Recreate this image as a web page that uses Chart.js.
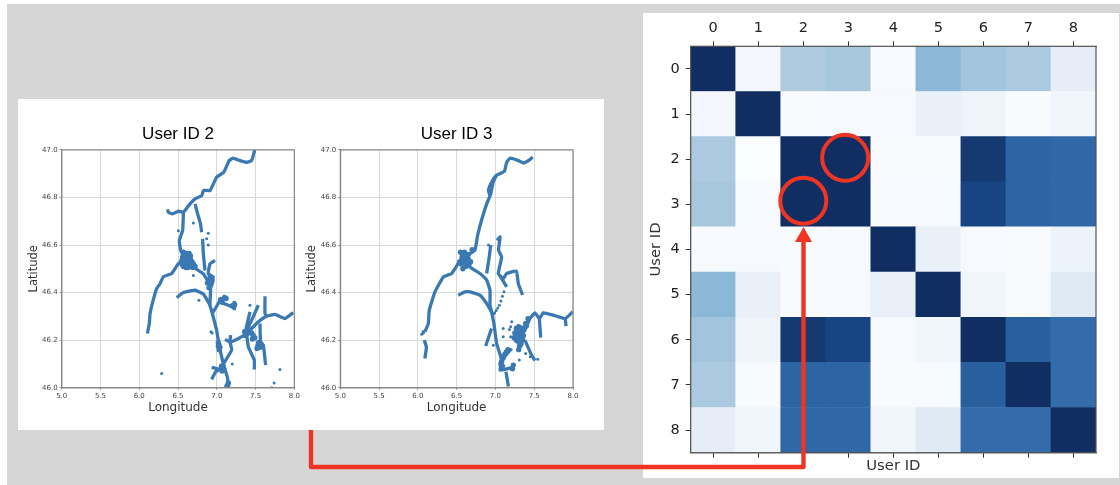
<!DOCTYPE html>
<html>
<head>
<meta charset="utf-8">
<script src="https://cdn.jsdelivr.net/npm/chart.js"></script>
<style>
  html, body { margin: 0; padding: 0; background: #fff; }
  #page { position: relative; width: 1120px; height: 485px; overflow: hidden; background: #fff; }
  #grey { position: absolute; left: 7px; top: 4px; width: 1113px; height: 481px; background: #d6d6d6; }
  .panel { position: absolute; background: #fff; }
  .box { position: absolute; }
  .box canvas { filter: blur(0.5px); }
  svg { position: absolute; left: 0; top: 0; }
</style>
</head>
<body>
<div id="page">
  <div id="grey"></div>
  <div class="panel" style="left:18px;top:99px;width:586px;height:331px"></div>
  <div class="panel" style="left:643px;top:13px;width:476px;height:465px"></div>
  <div class="box" style="left:18px;top:99px;width:287px;height:331px"><canvas id="map2"></canvas></div>
  <div class="box" style="left:305px;top:99px;width:278px;height:331px"><canvas id="map3"></canvas></div>
  <div class="box" style="left:643px;top:13px;width:476px;height:465px"><canvas id="matrix"></canvas></div>
  <svg width="1120" height="485">
    <polyline points="311,430 311,467 803.5,467 803.5,238" fill="none" stroke="#ee3524" stroke-width="4.4" stroke-linejoin="round"/>
    <polygon points="803.5,227 795,242 812,242" fill="#ee3524"/>
  </svg>
</div>
<script>
// map axes
const lonTicks = [5.0, 5.5, 6.0, 6.5, 7.0, 7.5, 8.0];
const latTicks = [46.0, 46.2, 46.4, 46.6, 46.8, 47.0];

// user 2 tracks, [lon, lat]
const u2North = [[7.49,47.0],[7.45,46.955],[7.385,46.948],[7.30,46.955],[7.21,46.965],[7.16,46.955],[7.09,46.906],[6.998,46.885],[6.913,46.829],[6.83,46.83],[6.806,46.808],[6.72,46.794],[6.655,46.773],[6.57,46.738],[6.505,46.742],[6.43,46.731],[6.375,46.738],[6.365,46.75]];
const u2Vertical = [[6.57,46.738],[6.56,46.661],[6.517,46.619],[6.535,46.577],[6.59,46.542]];
const u2West = [[6.105,46.228],[6.13,46.27],[6.14,46.312],[6.18,46.368],[6.225,46.417],[6.268,46.437],[6.31,46.466],[6.418,46.48],[6.46,46.5],[6.505,46.522],[6.59,46.542]];
const u2Main = [[6.59,46.542],[6.698,46.507],[6.827,46.479],[6.913,46.43],[6.92,46.41],[6.913,46.347],[6.943,46.312],[6.998,46.242],[7.03,46.179],[7.085,46.1],[7.14,46.04],[7.14,46.0]];
const u2Branch = [[6.483,46.379],[6.57,46.40],[6.676,46.408],[6.72,46.41],[6.83,46.393],[6.913,46.347]];
const u2Spur1 = [[6.72,46.773],[6.741,46.745],[6.79,46.689],[6.805,46.654]];
const u2Spur2 = [[6.818,46.626],[6.827,46.563],[6.848,46.493]];
const u2Loop = [[6.977,46.535],[6.913,46.521],[6.89,46.479],[6.956,46.465],[6.913,46.43]];
const u2Arm1 = [[6.943,46.312],[7.02,46.354],[7.04,46.368],[7.106,46.382]];
const u2Arm2 = [[7.04,46.36],[7.149,46.347],[7.226,46.337]];
const u2Arm3 = [[7.226,46.365],[7.226,46.326]];
const u2East = [[7.987,46.316],[7.88,46.291],[7.751,46.308],[7.644,46.301],[7.536,46.277],[7.45,46.249],[7.385,46.228],[7.256,46.203],[7.17,46.193],[7.106,46.203]];
const u2Arm4 = [[7.622,46.385],[7.622,46.312],[7.644,46.301]];
const u2Arm5 = [[7.428,46.319],[7.364,46.228]];
const u2Arm6 = [[7.536,46.347],[7.47,46.298],[7.428,46.27],[7.385,46.228]];
const u2South1 = [[7.385,46.228],[7.407,46.172],[7.484,46.116],[7.484,46.077]];
const u2South2 = [[7.557,46.27],[7.566,46.186],[7.6,46.18],[7.63,46.095]];
const u2South3 = [[7.179,46.221],[7.17,46.193],[7.192,46.158],[7.085,46.1]];
const u2South4 = [[6.934,46.086],[7.04,46.077],[7.085,46.1]];
const u2South5 = [[6.934,46.035],[6.986,46.067],[7.04,46.077]];
const u2Blob = [[7.02,46.19],[7.03,46.18],[7.04,46.17],[7.03,46.16],[7.02,46.175],[7.08,46.09],[7.06,46.09],[7.09,46.08],[7.07,46.07],[7.14,46.01],[7.15,46.02],[7.13,46.005],[6.9,46.445],[6.88,46.44],[6.91,46.46],[6.93,46.44],[6.94,46.45],[6.9,46.42],[6.92,46.43],[7.05,46.37],[7.07,46.36],[7.1,46.38],[7.12,46.375],[7.2,46.345],[7.22,46.34],[7.23,46.35]];
const u2Knot1 = [[6.56,46.55],[6.58,46.55],[6.6,46.556],[6.62,46.55],[6.64,46.545],[6.66,46.54],[6.68,46.53],[6.7,46.52],[6.72,46.51],[6.55,46.535],[6.57,46.53],[6.59,46.52],[6.61,46.53],[6.63,46.52],[6.65,46.525],[6.67,46.51],[6.69,46.505],[6.57,46.51],[6.6,46.505],[6.63,46.505],[6.55,46.52],[6.59,46.54],[6.62,46.565],[6.64,46.56],[6.58,46.565],[6.66,46.555],[6.57,46.57]];
const u2Knot2 = [[7.53,46.175],[7.55,46.18],[7.52,46.165],[7.56,46.17],[7.54,46.19],[7.57,46.185],[7.45,46.23],[7.47,46.22],[7.49,46.21],[7.46,46.205],[7.39,46.24],[7.37,46.22],[7.41,46.23],[7.36,46.235]];
const u2Dots = [[6.29,46.06],[7.815,46.077],[6.89,46.65],[6.89,46.6],[6.87,46.626],[6.698,46.693],[7.74,46.02],[7.708,46.0],[7.2,46.1],[6.698,46.472],[6.505,46.66],[6.655,46.57],[6.77,46.368],[6.925,46.235],[6.94,46.23],[7.428,46.347]];

// user 3 tracks, [lon, lat]
const u3North = [[7.48,46.97],[7.425,46.955],[7.36,46.945],[7.295,46.955],[7.19,46.965],[7.145,46.948],[7.115,46.91],[7.01,46.892],[6.95,46.864],[6.91,46.83],[6.93,46.808]];
const u3Strand = [[7.01,46.892],[6.97,46.864],[6.94,46.815],[6.887,46.773],[6.82,46.703],[6.77,46.64],[6.736,46.578],[6.67,46.564],[6.63,46.536]];
const u3West = [[6.09,46.235],[6.135,46.27],[6.147,46.326],[6.22,46.403],[6.33,46.466],[6.435,46.48],[6.565,46.543],[6.63,46.536]];
const u3Main = [[6.565,46.564],[6.67,46.508],[6.80,46.48],[6.887,46.452],[6.93,46.41],[6.93,46.347],[6.95,46.319],[6.98,46.27],[7.016,46.186],[7.08,46.116],[7.059,46.074],[7.231,46.086]];
const u3Exit = [[7.136,46.067],[7.167,46.005]];
const u3Branch = [[6.52,46.389],[6.607,46.403],[6.672,46.403],[6.8,46.389],[6.887,46.354],[6.95,46.319]];
const u3Spur = [[6.94,46.6],[6.92,46.55],[6.887,46.48]];
const u3Hook = [[7.02,46.62],[7.06,46.634],[7.04,46.578],[7.08,46.55],[7.037,46.48],[7.1,46.459],[7.145,46.48],[7.27,46.49],[7.295,46.438],[7.35,46.39]];
const u3Hook2 = [[7.06,46.47],[7.145,46.424]];
const u3Link = [[6.874,46.175],[6.95,46.249]];
const u3East = [[7.996,46.319],[7.9,46.291],[7.747,46.305],[7.618,46.315],[7.566,46.291],[7.51,46.315],[7.446,46.291],[7.38,46.242],[7.317,46.214]];
const u3East2 = [[7.566,46.291],[7.584,46.211]];
const u3East3 = [[7.9,46.291],[7.91,46.259]];
const u3South = [[7.38,46.2],[7.455,46.144],[7.51,46.114]];
const u3Fork = [[7.21,46.165],[7.08,46.116]];
const u3Stub = [[6.09,46.235],[6.05,46.235]];
const u3Stub2 = [[6.083,46.2],[6.11,46.17],[6.09,46.123]];
const u3Gap = [[7.11,46.403],[7.09,46.385],[7.07,46.365],[7.05,46.347],[7.03,46.335],[7.01,46.325],[6.99,46.315],[6.975,46.31]];
const u3Knot1 = [[6.55,46.57],[6.57,46.55],[6.6,46.53],[6.62,46.51],[6.54,46.53],[6.58,46.5],[6.6,46.57],[6.64,46.56],[6.66,46.52],[6.68,46.53],[6.62,46.55],[6.7,46.58],[6.56,46.52],[6.6,46.55],[6.65,46.54],[6.63,46.53],[6.58,46.53]];
const u3Knot2 = [[7.25,46.23],[7.27,46.25],[7.3,46.256],[7.33,46.24],[7.35,46.25],[7.37,46.25],[7.36,46.22],[7.34,46.2],[7.32,46.18],[7.3,46.16],[7.31,46.175],[7.27,46.2],[7.24,46.21],[7.26,46.215],[7.29,46.22],[7.31,46.235],[7.33,46.22],[7.35,46.205],[7.29,46.195],[7.31,46.205],[7.33,46.185],[7.39,46.27],[7.4,46.26],[7.42,46.29],[7.3,46.24],[7.28,46.235],[7.32,46.25]];
const u3Knot3 = [[7.08,46.11],[7.1,46.125],[7.12,46.14],[7.14,46.15],[7.16,46.16],[7.09,46.09],[7.07,46.1],[7.22,46.08],[7.23,46.095]];
const u3Dots = [[7.1,46.249],[7.21,46.277],[7.196,46.256],[7.18,46.245],[7.1,46.214],[7.196,46.214],[6.973,46.179],[7.308,46.116],[7.545,46.12],[6.91,46.6],[7.39,46.144],[7.45,46.13],[6.05,46.225],[6.07,46.23]];

const u2Tracks = [u2North, u2Vertical, u2West, u2Main, u2Branch, u2Spur1, u2Spur2, u2Loop, u2Arm1, u2Arm2, u2Arm3, u2East, u2Arm4, u2Arm5, u2Arm6, u2South1, u2South2, u2South3, u2South4, u2South5];
const u3Tracks = [u3North, u3Strand, u3West, u3Main, u3Exit, u3Branch, u3Spur, u3Hook, u3Hook2, u3East, u3East2, u3East3, u3South, u3Fork, u3Stub, u3Stub2, u3Link];
const u2Spots = [u2Blob, u2Knot1, u2Knot2];
const u3Spots = [u3Knot1, u3Knot2, u3Knot3];
const u2Small = [u2Dots];
const u3Small = [u3Gap, u3Dots];

// similarity matrix, read by eye
const userIds = ['0', '1', '2', '3', '4', '5', '6', '7', '8'];
const row0 = [1, .03, .33, .36, .02, .48, .38, .34, .1];
const row1 = [.03, 1, .01, .02, .02, .08, .05, .01, .04];
const row2 = [.34, 0, 1, 1, .01, .01, .93, .75, .73];
const row3 = [.36, .02, 1, 1, .02, .02, .87, .75, .73];
const row4 = [.02, .02, .01, .02, 1, .08, .02, .01, .06];
const row5 = [.48, .08, .01, .02, .08, 1, .04, .01, .13];
const row6 = [.38, .05, .93, .87, .02, .04, 1, .78, .71];
const row7 = [.34, .01, .75, .75, .01, .01, .78, 1, .71];
const row8 = [.1, .04, .73, .73, .04, .13, .71, .71, 1];
const matrixRows = [row0, row1, row2, row3, row4, row5, row6, row7, row8];

// red rings sit on these cells (slightly off centre in the original)
const rings = [{ x: 2.0, y: 2.92 }, { x: 2.93, y: 1.97 }];

// colour ramp, Blues-ish but with the washed out navy of the screenshot
const rampAt = [0, .05, .1, .15, .35, .5, .72, .78, .87, .93, 1];
const rampRgb = [[250,252,255],[239,244,251],[230,237,246],[220,232,244],[169,200,222],[136,181,214],[48,105,169],[42,95,158],[24,68,131],[21,58,114],[16,46,98]];

function ramp(v) {
  let i = 0;
  while (i < rampAt.length - 2 && v > rampAt[i + 1]) i++;
  const t = (v - rampAt[i]) / (rampAt[i + 1] - rampAt[i]);
  const c = rampRgb[i].map((a, k) => Math.round(a + (rampRgb[i + 1][k] - a) * t));
  return 'rgb(' + c.join(',') + ')';
}

// matplotlib style box round the axes
const frame = color => ({
  id: 'frame',
  afterDatasetsDraw(chart) {
    const a = chart.chartArea, ctx = chart.ctx;
    ctx.save();
    ctx.strokeStyle = color;
    ctx.lineWidth = 1.2;
    ctx.strokeRect(a.left, a.top, a.right - a.left, a.bottom - a.top);
    ctx.restore();
  }
});

// a scatter dataset on a second x axis halves the bars, so the rings go here
const ringMarks = {
  id: 'ringMarks',
  afterDraw(chart) {
    const ctx = chart.ctx;
    ctx.save();
    ctx.strokeStyle = '#ee3524';
    ctx.lineWidth = 4;
    rings.forEach(r => {
      ctx.beginPath();
      ctx.arc(chart.scales.x.getPixelForValue(r.x), chart.scales.y.getPixelForValue(r.y), 23, 0, Math.PI * 2);
      ctx.stroke();
    });
    ctx.restore();
  }
};

const toXY = p => ({ x: p[0], y: p[1] });
const blue = '#3b79b3';

function makeMap(id, title, tracks, spots, small, pad, axisLeft) {
  const lineSets = tracks.map(t => ({
    data: t.map(toXY), showLine: true, borderColor: blue, borderWidth: 3.3,
    pointRadius: 0, tension: 0.12
  }));
  const spotSets = spots.map(s => ({
    data: s.map(toXY), showLine: false, backgroundColor: blue, borderWidth: 0, pointRadius: 2.7
  }));
  const smallSets = small.map(s => ({
    data: s.map(toXY), showLine: false, backgroundColor: blue, borderWidth: 0, pointRadius: 1.5
  }));
  new Chart(document.getElementById(id), {
    type: 'scatter',
    data: { datasets: lineSets.concat(spotSets, smallSets) },
    plugins: [frame('#888')],
    options: {
      responsive: true, maintainAspectRatio: false, animation: false,
      layout: { autoPadding: false, padding: pad },
      plugins: {
        legend: { display: false }, tooltip: { enabled: false },
        title: { display: true, fullSize: false, text: title, color: '#000', font: { family: 'Liberation Sans', size: 17, weight: 'normal' }, padding: { top: 25, bottom: 5.5 } }
      },
      scales: {
        x: {
          type: 'linear', bounds: 'data', min: 5, max: 8,
          afterBuildTicks: s => { s.ticks = lonTicks.map(v => ({ value: v })); },
          afterFit: s => { s.height = 27.3; },
          ticks: { color: '#444', font: { family: 'DejaVu Sans', size: 7 }, maxRotation: 0, padding: 2, callback: v => v.toFixed(1) },
          grid: { color: '#d9d9d9', lineWidth: 1, tickLength: 2, tickColor: '#888' },
          border: { color: '#888', width: 1.2 },
          title: { display: true, text: 'Longitude', color: '#333', font: { family: 'DejaVu Sans', size: 12 }, padding: 0 }
        },
        y: {
          type: 'linear', bounds: 'data', min: 46, max: 47,
          afterBuildTicks: s => { s.ticks = latTicks.map(v => ({ value: v })); },
          afterFit: s => { s.width = axisLeft; },
          ticks: { color: '#444', font: { family: 'DejaVu Sans', size: 7 }, padding: 2, callback: v => v.toFixed(1) },
          grid: { color: '#d9d9d9', lineWidth: 1, tickLength: 2, tickColor: '#888' },
          border: { color: '#888', width: 1.2 },
          title: { display: true, text: 'Latitude', color: '#333', font: { family: 'DejaVu Sans', size: 11.5 }, padding: 0 }
        }
      }
    }
  });
}

makeMap('map2', 'User ID 2', u2Tracks, u2Spots, u2Small, { left: 9, right: 10.7, top: 0, bottom: 15 }, 34.7);
makeMap('map3', 'User ID 3', u3Tracks, u3Spots, u3Small, { left: 0, right: 10, top: 0, bottom: 15 }, 35.3);

const cells = [];
const cellColors = [];
matrixRows.forEach((row, r) => row.forEach((v, c) => {
  cells.push({ x: userIds[c], y: [r - 0.5, r + 0.5] });
  cellColors.push(ramp(v));
}));

const idFont = { family: 'DejaVu Sans', size: 14.5 };

new Chart(document.getElementById('matrix'), {
  data: {
    labels: userIds,
    datasets: [
      { type: 'bar', data: cells, backgroundColor: cellColors, borderWidth: 0, barPercentage: 1, categoryPercentage: 1 }
    ]
  },
  plugins: [frame('#555'), ringMarks],
  options: {
    responsive: true, maintainAspectRatio: false, animation: false,
    layout: { autoPadding: false, padding: { left: 4, right: 23, top: 0, bottom: 3 } },
    plugins: { legend: { display: false }, tooltip: { enabled: false } },
    scales: {
      x: {
        type: 'category', position: 'bottom', offset: true,
        afterFit: s => { s.height = 22.3; },
        ticks: { display: false },
        grid: { offset: false, drawOnChartArea: false, tickLength: 5, tickColor: '#333' },
        border: { color: '#555', width: 1.2 },
        title: { display: true, text: 'User ID', color: '#333', font: { family: 'DejaVu Sans', size: 14.8 }, padding: 0 }
      },
      xTop: {
        type: 'category', position: 'top', offset: true,
        afterFit: s => { s.height = 33.3; },
        ticks: { color: '#222', font: idFont, maxRotation: 0, padding: 4 },
        grid: { offset: false, drawOnChartArea: false, tickLength: 5, tickColor: '#333' },
        border: { color: '#555', width: 1.2 }
      },
      y: {
        type: 'linear', bounds: 'data', reverse: true, min: -0.5, max: 8.5,
        afterBuildTicks: s => { s.ticks = userIds.map((v, i) => ({ value: i })); },
        afterFit: s => { s.width = 43.7; },
        ticks: { color: '#222', font: idFont, padding: 6, callback: v => v },
        grid: { drawOnChartArea: false, tickLength: 5, tickColor: '#333' },
        border: { color: '#555', width: 1.2 },
        title: { display: true, text: 'User ID', color: '#333', font: { family: 'DejaVu Sans', size: 14.8 }, padding: 0 }
      }
    }
  }
});
</script>
</body>
</html>
